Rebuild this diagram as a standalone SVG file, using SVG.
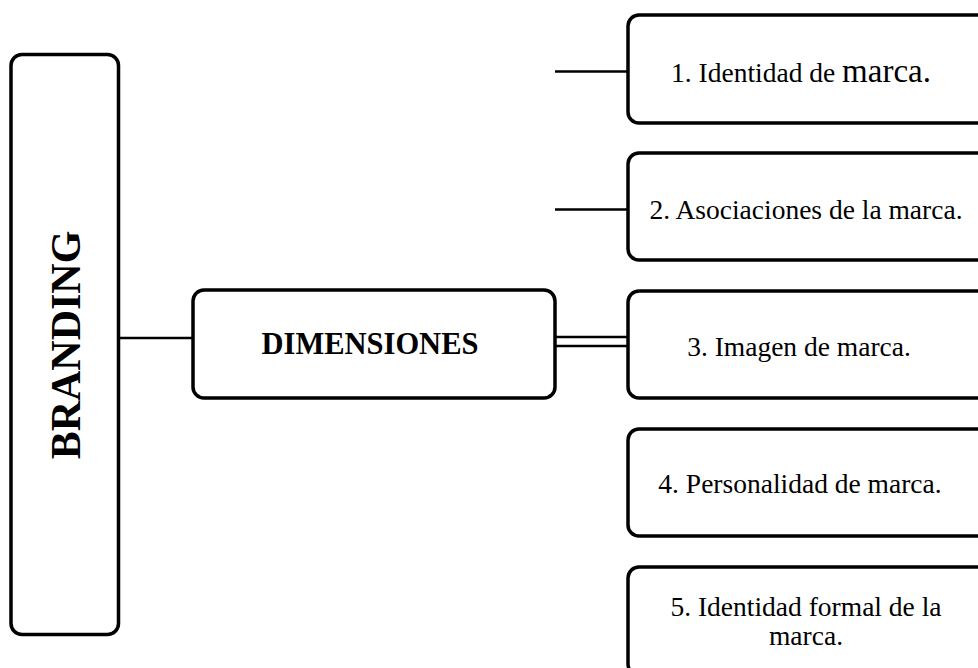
<svg xmlns="http://www.w3.org/2000/svg" width="978" height="668" viewBox="0 0 978 668">
  <style>
    .box { fill: #ffffff; stroke: #000000; stroke-width: 3.5; }
    .link { stroke: #000000; stroke-width: 2.5; fill: none; }
    .label { font-family: "Liberation Serif", "Times New Roman", serif; font-size: 27.5px; fill: #000000; text-anchor: middle; }
    .title { font-family: "Liberation Serif", "Times New Roman", serif; font-weight: bold; fill: #000000; text-anchor: middle; }
  </style>
  <rect width="978" height="668" fill="#ffffff"/>

  <!-- connectors -->
  <g id="connectors">
    <line class="link" x1="120" y1="338" x2="193" y2="338"/>
    <line class="link" x1="555" y1="337" x2="628" y2="337"/>
    <line class="link" x1="555" y1="346" x2="628" y2="346"/>
    <line class="link" x1="555" y1="71.5" x2="628" y2="71.5"/>
    <line class="link" x1="555" y1="209.5" x2="628" y2="209.5"/>
  </g>

  <g id="branding">
    <rect class="box" x="11" y="54.5" width="107.5" height="580" rx="11"/>
    <text class="title" font-size="42" transform="translate(80,345) rotate(-90)">BRANDING</text>
  </g>

  <g id="dimensiones">
    <rect class="box" x="193" y="290" width="362" height="108" rx="11"/>
    <text class="title" font-size="30.5" x="370" y="354">DIMENSIONES</text>
  </g>

  <g id="dim-1">
    <rect class="box" x="628" y="15" width="360" height="108" rx="11"/>
    <text class="label" x="801" y="82" font-size="28.5">1. Identidad de <tspan font-size="33">marca.</tspan></text>
  </g>

  <g id="dim-2">
    <rect class="box" x="628" y="153" width="360" height="107" rx="11"/>
    <text class="label" x="806" y="219">2. Asociaciones de la marca.</text>
  </g>

  <g id="dim-3">
    <rect class="box" x="628" y="291" width="360" height="107" rx="11"/>
    <text class="label" x="799" y="356">3. Imagen de marca.</text>
  </g>

  <g id="dim-4">
    <rect class="box" x="628" y="429" width="360" height="107" rx="11"/>
    <text class="label" x="800" y="493">4. Personalidad de marca.</text>
  </g>

  <g id="dim-5">
    <rect class="box" x="628" y="567" width="360" height="108" rx="11"/>
    <text class="label" x="806" y="616">5. Identidad formal de la</text>
    <text class="label" x="806" y="645">marca.</text>
  </g>
</svg>
